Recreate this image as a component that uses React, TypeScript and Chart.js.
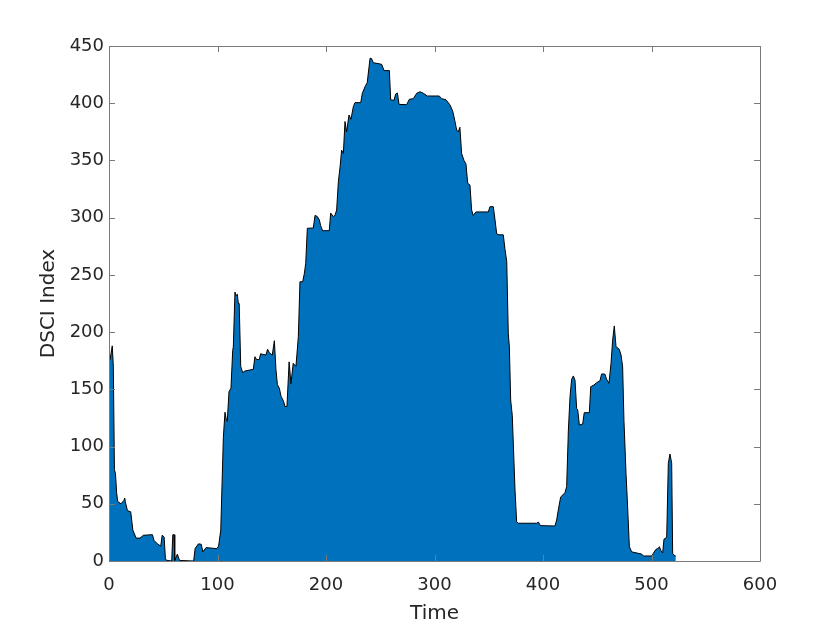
import { useEffect, useRef } from 'react';
import { Chart, registerables } from 'chart.js';

Chart.register(...registerables);

const times: number[] = [
  0, 1, 3, 4, 5, 6, 7, 8, 11, 13.8, 14.5, 15, 17, 20, 22, 25, 28.6, 31.7, 40, 41.5,
  44.6, 47.7, 49, 50.8, 52, 53, 57.8, 58.8, 60, 60.6, 63, 65, 78, 79.4, 82.5, 85, 86.5, 89.5, 99.4, 101,
  103, 105.4, 106.9, 108, 109, 110.6, 112.4, 114, 114.6, 116.1, 117, 118.3, 119.2, 120, 121.4, 123.2, 125.3, 133, 134.5, 136,
  138.5, 139.7, 144.6, 146.2, 147.7, 150.5, 152.4, 153.9, 155.2, 157, 158.5, 160.7, 162.2, 164, 166, 167.7, 169.8, 172.3, 174.5, 176,
  178.5, 180, 181.3, 182.8, 188.3, 189.9, 192, 193.9, 195.1, 196.9, 203, 204.3, 206.8, 208.3, 209.8, 211.4, 213, 214.4, 216, 217.5,
  219, 221.2, 223, 225.2, 226.7, 232, 233.5, 236, 238, 240.6, 242, 243.6, 251.3, 253.5, 258.4, 259.6, 262.7, 264.2, 265.8, 267.3,
  274.3, 276.8, 280.5, 283.6, 286.7, 289.7, 293.4, 304.4, 306.6, 310.6, 314.3, 316.8, 318.9, 320.4, 321.9, 323.4, 325, 327.2, 329, 330.6,
  332.7, 334.2, 335.7, 338.2, 349.6, 351.1, 354.2, 355.8, 357.3, 359.4, 363.4, 365, 366.6, 368, 369, 370.2, 371.7, 374.2, 375.7, 377.3,
  394.2, 395.7, 397.8, 411, 412.6, 414.1, 416.3, 420.3, 421.8, 423.4, 424.9, 426.4, 428, 429.5, 431, 432, 433.5, 436.6, 438, 442.7,
  444, 447, 449.4, 452.5, 454, 457, 458.6, 460.8, 462.7, 464.2, 465.7, 467.3, 470.3, 471.9, 473.4, 474.6, 476.5, 477.7, 479.6, 481.7,
  487.8, 490.9, 492.5, 500.2, 501.7, 504.1, 506.3, 507.2, 508.8, 510.3, 511.5, 514, 515.5, 517, 518.6, 519.5, 521.5, 522.4,
];

const dsciValues: number[] = [
  175, 176, 188, 170, 80, 76, 60, 52, 50, 53, 55, 52, 44, 43, 27, 20, 20, 22.5, 23, 18,
  15, 13, 22.5, 21, 2, 0.6, 0, 23, 23, 0.5, 6, 0.5, 0, 11, 15, 14.6, 8, 11.7, 10.8, 13,
  27, 108, 130, 124, 122, 148, 151, 184, 187, 235, 232, 233, 225, 225, 170, 164.6, 166, 167.5, 178.5, 176,
  176, 181, 180, 185, 182, 180, 192.5, 167, 154, 151, 144, 140, 135, 135, 174, 155, 172.7, 170, 196, 244,
  244, 251, 260, 290.7, 291, 302, 301, 298, 293, 288.6, 288.6, 304, 301, 302, 306.7, 331.5, 344.5, 359, 356, 384,
  375, 389.7, 386, 397, 400.5, 400.5, 408.7, 414.5, 418, 439.3, 439, 435.4, 434, 428.5, 428.5, 403, 402.5, 408, 409, 399,
  398.7, 403.4, 404, 408.7, 410, 408.7, 406.3, 406.3, 404, 403, 398.5, 393, 384, 376.6, 375, 379, 356, 350, 347, 330,
  328.5, 306.7, 302, 305, 305, 309.6, 309.6, 298, 286, 285, 285, 272, 261.5, 199, 187, 140.7, 127, 62, 34.3, 33,
  33, 34, 30.9, 30.6, 35.8, 44.6, 56, 59.7, 65, 114.5, 143.6, 158.8, 161.7, 158, 133.4, 132, 118.8, 119.7, 129.6, 129.6,
  152.3, 153.8, 155.8, 157.5, 163.4, 163.4, 158.8, 155.3, 172.7, 193, 205.4, 187.3, 185, 180, 169.8, 123, 76.6, 53.3, 12.5, 8,
  6.7, 6.1, 4.4, 4.4, 6.7, 10.2, 11, 12.5, 9, 7, 19, 20.7, 85.4, 93.5, 85.4, 6.7, 4.4, 4.4,
];

const xTicks: number[] = [0, 100, 200, 300, 400, 500, 600];
const yTicks: number[] = [0, 50, 100, 150, 200, 250, 300, 350, 400, 450];
const xTitle = 'Time';
const yTitle = 'DSCI Index';

const FONT = "'DejaVu Sans', sans-serif";

const boxPlugin = {
  id: 'matlabBox',
  afterDraw(chart: any) {
    const { ctx, chartArea } = chart;
    const { left, right, top, bottom } = chartArea;
    const xs = chart.scales.x;
    const ys = chart.scales.y;
    ctx.save();
    ctx.strokeStyle = '#7a7a7a';
    ctx.lineWidth = 1;
    ctx.beginPath();
    ctx.rect(Math.round(left) + 0.5, Math.round(top) + 0.5, Math.round(right - left), Math.round(bottom - top));
    ctx.stroke();
    const tl = 6;
    ctx.beginPath();
    xTicks.forEach((v) => {
      const px = Math.round(xs.getPixelForValue(v)) + 0.5;
      ctx.moveTo(px, bottom);
      ctx.lineTo(px, bottom - tl);
      ctx.moveTo(px, top);
      ctx.lineTo(px, top + tl);
    });
    yTicks.forEach((v) => {
      const py = Math.round(ys.getPixelForValue(v)) + 0.5;
      ctx.moveTo(left, py);
      ctx.lineTo(left + tl, py);
      ctx.moveTo(right, py);
      ctx.lineTo(right - tl, py);
    });
    ctx.stroke();
    ctx.fillStyle = '#262626';
    ctx.font = `20px ${FONT}`;
    ctx.textAlign = 'center';
    ctx.textBaseline = 'middle';
    ctx.fillText(xTitle, (left + right) / 2, 614);
    ctx.translate(48.5, (top + bottom) / 2);
    ctx.rotate(-Math.PI / 2);
    ctx.fillText(yTitle, 0, 0);
    ctx.restore();
  },
};

export default function App() {
  const ref = useRef<HTMLCanvasElement | null>(null);
  useEffect(() => {
    if (!ref.current) return;
    const data = times.map((t, i) => ({ x: t, y: dsciValues[i] }));
    const chart = new Chart(ref.current, {
      type: 'line',
      data: {
        datasets: [
          {
            data,
            borderColor: '#000000',
            borderWidth: 1,
            backgroundColor: '#0072BD',
            fill: 'origin',
            pointRadius: 0,
            tension: 0,
          },
        ],
      },
      options: {
        animation: false,
        responsive: false,
        devicePixelRatio: 1,
        layout: { padding: { top: 46, right: 80, left: 0, bottom: 0 } },
        plugins: { legend: { display: false }, tooltip: { enabled: false } },
        scales: {
          x: {
            type: 'linear',
            min: 0,
            max: 600,
            afterBuildTicks: (s: any) => {
              s.ticks = xTicks.map((v) => ({ value: v }));
            },
            afterFit: (s: any) => {
              s.height = 69;
            },
            grid: { display: false, drawTicks: false },
            border: { display: false },
            ticks: { font: { family: FONT, size: 18 }, color: '#262626', padding: 14, maxRotation: 0 },
          },
          y: {
            type: 'linear',
            min: 0,
            max: 450,
            afterBuildTicks: (s: any) => {
              s.ticks = yTicks.map((v) => ({ value: v }));
            },
            afterFit: (s: any) => {
              s.width = 109;
            },
            grid: { display: false, drawTicks: false },
            border: { display: false },
            ticks: { font: { family: FONT, size: 18 }, color: '#262626', padding: 5 },
          },
        },
      },
      plugins: [boxPlugin],
    });
    return () => chart.destroy();
  }, []);
  return (
    <div style={{ position: 'absolute', left: 0, top: 0, width: 840, height: 630, background: '#fff' }}>
      <canvas ref={ref} width={840} height={630} />
    </div>
  );
}
